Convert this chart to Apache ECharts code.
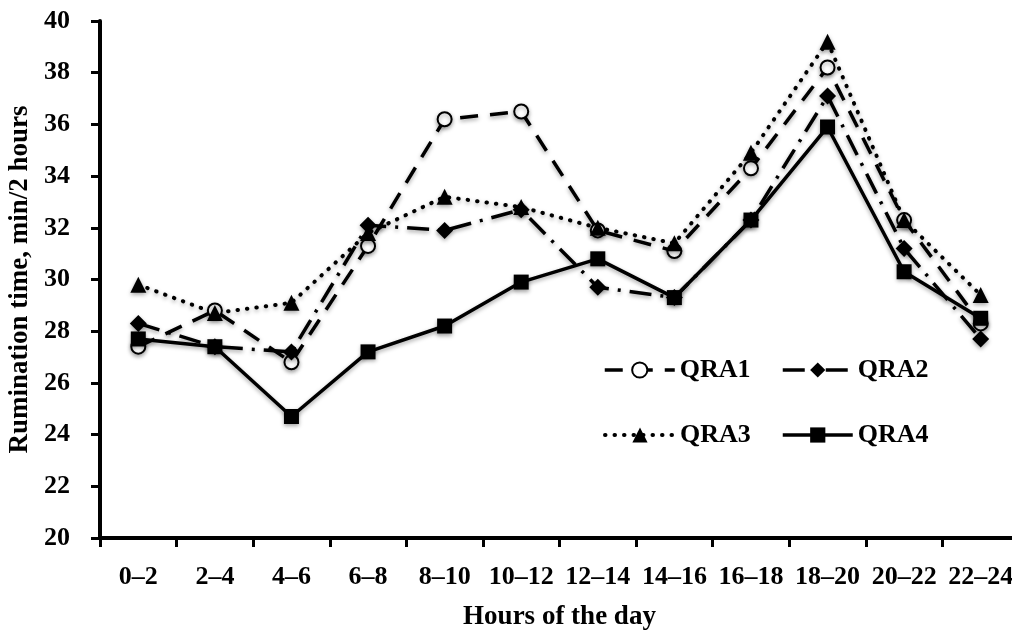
<!DOCTYPE html>
<html>
<head>
<meta charset="utf-8">
<script src="https://cdn.jsdelivr.net/npm/echarts@6/dist/echarts.min.js"></script>
<style>html,body{margin:0;padding:0;background:#fff}#c{width:1012px;height:633px}</style>
</head>
<body>
<div id="c"></div>
<script>
const categories = ['0–2','2–4','4–6','6–8','8–10','10–12','12–14','14–16','16–18','18–20','20–22','22–24'];
const QRA1 = [27.4, 28.8, 26.8, 31.3, 36.2, 36.5, 31.9, 31.1, 34.3, 38.2, 32.3, 28.3];
const QRA2 = [28.3, 27.4, 27.2, 32.1, 31.9, 32.7, 29.7, 29.3, 32.3, 37.1, 31.2, 27.7];
const QRA3 = [29.8, 28.7, 29.1, 31.8, 33.2, 32.8, 32.0, 31.4, 34.9, 39.2, 32.3, 29.4];
const QRA4 = [27.7, 27.4, 24.7, 27.2, 28.2, 29.9, 30.8, 29.3, 32.3, 35.9, 30.3, 28.5];
const yTicks = {min: 20, max: 40, interval: 2};

const FONT = '"Liberation Serif", "DejaVu Serif", serif';
const shadow = {shadowColor: 'rgba(0,0,0,0.35)', shadowBlur: 4, shadowOffsetY: 2};

const styles = {
  QRA1: {symbol: 'circle', size: 14, dash: [18, 12], width: 3.5, fill: '#fff', cap: 'butt'},
  QRA2: {symbol: 'diamond', size: 17, dash: [22, 9, 3, 9], width: 3.5, fill: '#000', cap: 'butt'},
  QRA3: {symbol: 'triangle', size: 16, dash: [0.5, 9], width: 4, fill: '#000', cap: 'round'},
  QRA4: {symbol: 'rect', size: 15, dash: 'solid', width: 3.5, fill: '#000', cap: 'butt'}
};

function mkSeries(name, data) {
  const s = styles[name];
  return {
    name, type: 'line', data, symbol: s.symbol, symbolSize: s.size,
    lineStyle: Object.assign({color: '#000', width: s.width, type: s.dash, cap: s.cap}, shadow),
    itemStyle: Object.assign({color: s.fill, borderColor: '#000', borderWidth: s.fill === '#fff' ? 2 : 0}, shadow),
    emphasis: {disabled: true},
    animation: false
  };
}

function mkLegend(name, left, top, w) {
  const s = styles[name];
  return {
    data: [name], left, top, itemWidth: w, itemHeight: 19,
    selectedMode: false,
    lineStyle: {color: '#000', width: s.width, type: s.dash, cap: s.cap},
    itemStyle: {color: s.fill, borderColor: '#000', borderWidth: s.fill === '#fff' ? 2 : 0},
    textStyle: {fontFamily: FONT, fontWeight: 'bold', fontSize: 26, color: '#000'},
    padding: 0
  };
}

const chart = echarts.init(document.getElementById('c'), null, {renderer: 'canvas'});
chart.setOption({
  backgroundColor: '#fff',
  animation: false,
  grid: {left: 100, top: 21, right: -7, bottom: 95, containLabel: false, outerBoundsMode: 'none'},
  legend: [
    mkLegend('QRA1', 603, 357, 70),
    mkLegend('QRA2', 781, 357, 70),
    mkLegend('QRA3', 603, 422, 70),
    mkLegend('QRA4', 781, 422, 70)
  ],
  xAxis: {
    type: 'category', data: categories, boundaryGap: true,
    name: 'Hours of the day', nameLocation: 'middle', nameGap: 66,
    nameTextStyle: {fontFamily: FONT, fontWeight: 'bold', fontSize: 27, color: '#000'},
    axisLine: {lineStyle: {color: '#000', width: 4}},
    axisTick: {show: true, length: 9, lineStyle: {color: '#000', width: 3}},
    axisLabel: {fontFamily: FONT, fontWeight: 'bold', fontSize: 26, color: '#000', margin: 26, interval: 0},
    splitLine: {show: false}
  },
  yAxis: {
    type: 'value', min: yTicks.min, max: yTicks.max, interval: yTicks.interval,
    name: 'Rumination time, min/2 hours', nameLocation: 'middle', nameGap: 64,
    nameTextStyle: {fontFamily: FONT, fontWeight: 'bold', fontSize: 27, color: '#000'},
    axisLine: {show: true, lineStyle: {color: '#000', width: 4}},
    axisTick: {show: true, length: 9, lineStyle: {color: '#000', width: 3}},
    axisLabel: {fontFamily: FONT, fontWeight: 'bold', fontSize: 26, color: '#000', margin: 30},
    splitLine: {show: false}
  },
  series: [
    mkSeries('QRA1', QRA1),
    mkSeries('QRA2', QRA2),
    mkSeries('QRA3', QRA3),
    mkSeries('QRA4', QRA4)
  ]
});
</script>
</body>
</html>
